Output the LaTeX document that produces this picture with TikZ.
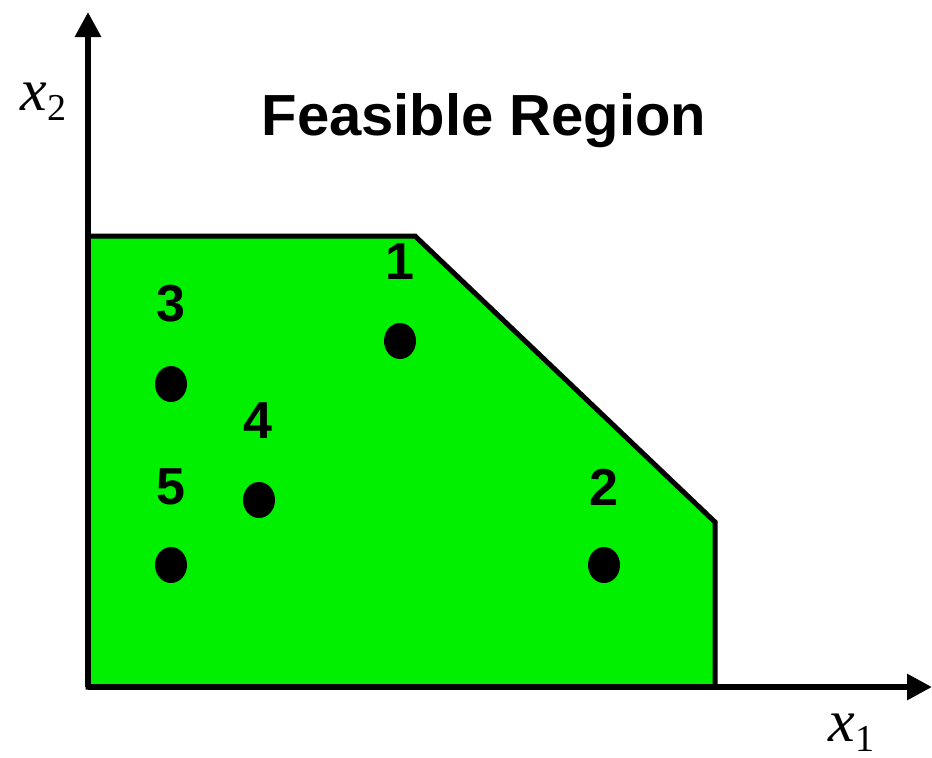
\documentclass[tikz,border=0pt]{standalone}
\usepackage{fontspec}
\setmainfont{Liberation Sans}
\newfontfamily\tmsfont{Liberation Serif}
\usetikzlibrary{arrows.meta,shapes.geometric}
\definecolor{feasgreen}{RGB}{0,240,0}
\tikzset{
  ptdot/.style={ellipse,fill=black,minimum width=16pt,minimum height=18pt,inner sep=0pt},
  ptlabel/.style={font=\fontsize{26}{26}\selectfont\bfseries,inner sep=0pt},
  axis/.style={line width=3pt,-{Triangle[length=12.5pt,width=12.5pt]}},
  region/.style={fill=feasgreen,draw=black,line width=2.5pt,line join=miter}
}
\begin{document}
\begin{tikzpicture}[x=0.5pt,y=-0.5pt]
\useasboundingbox (0,0) rectangle (932,757);
\coordinate (o) at (88,687);
\coordinate (ytop) at (88,12);
\coordinate (xend) at (932,687);
\coordinate (c1) at (88,236);
\coordinate (c2) at (415,236);
\coordinate (c3) at (715,522);
\coordinate (c4) at (715,687);
\draw[region] (o) -- (c1) -- (c2) -- (c3) -- (c4) -- cycle;
\draw[axis] (o) -- (ytop);
\draw[axis] (o) -- (xend);
\node[font=\fontsize{29}{29}\selectfont\bfseries,inner sep=0pt] (title) at (484,121) {Feasible Region};
\node[ptdot] (d1) at (400,341) {};
\node[ptdot] (d2) at (604,565) {};
\node[ptdot] (d3) at (171,384) {};
\node[ptdot] (d4) at (259,500) {};
\node[ptdot] (d5) at (171,565) {};
\node[ptlabel] (l1) at (400,262) {1};
\node[ptlabel] (l2) at (604,487) {2};
\node[ptlabel] (l3) at (171,304) {3};
\node[ptlabel] (l4) at (258,421) {4};
\node[ptlabel] (l5) at (171,487) {5};
\node[inner sep=0pt,anchor=base west] (x2lab) at (20,110) {\fontsize{30}{30}\selectfont\tmsfont\itshape x\raisebox{-5pt}{\fontsize{19}{19}\selectfont\upshape 2}};
\node[inner sep=0pt,anchor=base west] (x1lab) at (828,741) {\fontsize{30}{30}\selectfont\tmsfont\itshape x\raisebox{-5pt}{\fontsize{19}{19}\selectfont\upshape 1}};
\end{tikzpicture}
\end{document}
